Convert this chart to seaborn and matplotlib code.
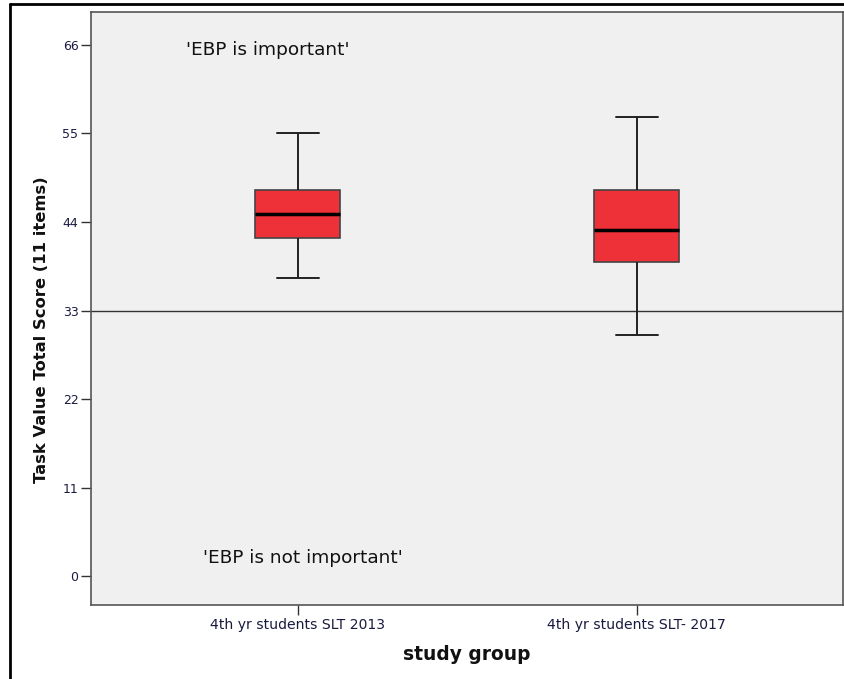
import matplotlib
matplotlib.use("Agg")
import matplotlib.pyplot as plt
from matplotlib.lines import Line2D
import seaborn as sns
import pandas as pd

groups = ["4th yr students SLT 2013", "4th yr students SLT- 2017"]
# five-number summaries: min, Q1, median, Q3, max
scores_2013 = [37, 42, 45, 48, 55]
scores_2017 = [30, 39, 43, 48, 57]
yticks = [0, 11, 22, 33, 44, 55, 66]
ref_line = 33

df = pd.DataFrame({
    "study group": [groups[0]] * len(scores_2013) + [groups[1]] * len(scores_2017),
    "score": scores_2013 + scores_2017,
})

sns.set_style("white")
plt.rcParams["font.family"] = ["DejaVu Sans"]

fig = plt.figure(figsize=(8.45, 6.79), dpi=100)
ax = fig.add_axes([91 / 845, 1 - 605 / 679, (843 - 91) / 845, (605 - 12) / 679])
ax.set_facecolor("#f0f0f0")

sns.boxplot(
    data=df, x="study group", y="score", order=groups, ax=ax,
    color="#ee3039", saturation=1, width=0.25, whis=1.5,
    boxprops=dict(edgecolor="#444444", linewidth=1.2),
    medianprops=dict(color="black", linewidth=2.5),
    whiskerprops=dict(color="#222222", linewidth=1.4),
    capprops=dict(color="#222222", linewidth=1.4),
    capwidths=0.125,
    showfliers=False,
)

ax.axhline(ref_line, color="#333333", linewidth=1.0, zorder=1)

ax.set_xlim(-0.61, 1.608)
ax.set_ylim(-3.6, 70.1)
ax.set_yticks(yticks)
ax.set_yticklabels([str(t) for t in yticks], fontsize=9, color="#1a1a40")
ax.tick_params(axis="x", labelsize=10.1, length=7, width=1, color="#333333", direction="out", pad=2,
               labelcolor="#1a1a40")
ax.tick_params(axis="y", length=7, width=1, color="#333333", direction="out", pad=2)
ax.tick_params(left=True, bottom=True)

for s in ax.spines.values():
    s.set_visible(True)
    s.set_color("#555555")
    s.set_linewidth(1.2)

ax.set_xlabel("study group", fontsize=13.4, fontweight="bold", labelpad=10, color="#111111")
ax.set_ylabel("Task Value Total Score (11 items)", fontsize=11.8, fontweight="bold", color="#111111")
ax.yaxis.set_label_coords(-0.056, 0.464)

ax.text(-0.33, 65.4, "'EBP is important'", fontsize=13.3, ha="left", va="center", color="#111111")
ax.text(-0.28, 2.3, "'EBP is not important'", fontsize=13.3, ha="left", va="center", color="#111111")

# outer frame (top and left)
fig.add_artist(Line2D([10 / 845, 10 / 845], [0, 1 - 4 / 679], transform=fig.transFigure, color="black", linewidth=2))
fig.add_artist(Line2D([10 / 845, 1], [1 - 4 / 679, 1 - 4 / 679], transform=fig.transFigure, color="black", linewidth=2))

fig.savefig("out.png", dpi=100, facecolor="white")
